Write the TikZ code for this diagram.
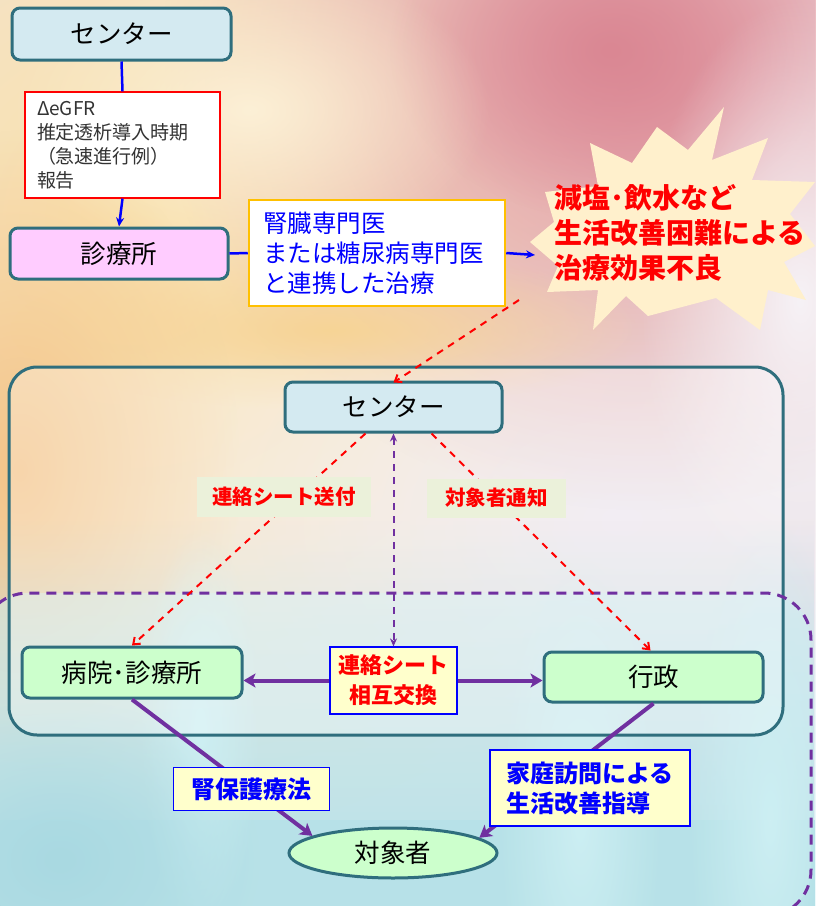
\documentclass[tikz,border=0pt]{standalone}
\usepackage{fontspec}
\setmainfont{Noto Sans CJK JP}
\usetikzlibrary{arrows.meta,fadings,calc,shapes.geometric}
\definecolor{tealb}{HTML}{2F6E7D}
\definecolor{cblue}{HTML}{D4EAF1}
\definecolor{cpink}{HTML}{FFCCFF}
\definecolor{cgreen}{HTML}{CCFFCC}
\definecolor{clabel}{HTML}{EBF1DA}
\definecolor{cyel}{HTML}{FFFFCC}
\definecolor{cpurp}{HTML}{7030A0}
\definecolor{corange}{HTML}{FFC000}
\definecolor{cstar}{HTML}{FFF0CC}
\definecolor{bgbase}{HTML}{EDE7EF}
\definecolor{cred}{HTML}{FF0000}
\definecolor{ctext}{HTML}{333333}
\definecolor{bgwarm}{HTML}{FAE1AC}
\definecolor{bgpink}{RGB}{226,152,163}
\definecolor{bgpinkd}{RGB}{218,135,147}
\definecolor{bgwhite}{RGB}{246,242,246}
\definecolor{bgorange}{RGB}{244,196,136}
\definecolor{bgarc}{RGB}{247,212,150}
\definecolor{bglight}{RGB}{252,240,214}
\definecolor{bgteal}{RGB}{166,216,224}
\definecolor{bgcyan}{RGB}{205,240,244}
\definecolor{bgdteal}{RGB}{140,200,212}
\definecolor{bgpanel}{RGB}{205,238,242}
\tikzfading[name=blob, inner color=transparent!0, outer color=transparent!100]
\tikzfading[name=upfade, top color=transparent!100, bottom color=transparent!0]
\tikzset{
  box/.style={draw=tealb, line width=3pt, rounded corners=8pt, text=black, inner sep=0pt,
    font=\fontsize{25.5}{30}\selectfont},
  note/.style={draw=blue, line width=1.2pt, fill=cyel, inner sep=0pt, font=\bfseries\fontsize{22}{30}\selectfont},
  lab/.style={fill=clabel, inner sep=0pt, text=cred, font=\bfseries\fontsize{20.5}{24}\selectfont},
  blueln/.style={draw=blue, line width=2.5pt},
  bluearr/.style={draw=blue, line width=2.5pt, -{Stealth[length=9pt,width=8pt]}},
  reddash/.style={draw=cred, line width=2pt, dash pattern=on 7pt off 6pt, -{Straight Barb[length=6pt,width=9pt]}},
  purdash/.style={draw=cpurp, line width=2pt, dash pattern=on 7pt off 6pt, {Stealth[length=8pt,width=7pt]}-{Stealth[length=8pt,width=7pt]}},
  purarr/.style={draw=cpurp, line width=4pt, -{Stealth[length=12pt,width=14pt,inset=3pt]}},
  blobc/.style={fill=#1, path fading=blob},
}
\begin{document}
\begin{tikzpicture}[x=1pt,y=-1pt]
\useasboundingbox (0,0) rectangle (815,906);
% ---------- background ----------
\fill[bgbase] (0,0) rectangle (815,906);
\fill[blobc=bgwarm] (130,220) ellipse [x radius=820, y radius=800];
\fill[blobc=bgbase] (620,520) ellipse [x radius=420, y radius=300];
\fill[blobc=bgpink] (640,70) ellipse [x radius=480, y radius=440];
\fill[blobc=bgpinkd] (610,50) ellipse [x radius=220, y radius=170];
\fill[blobc=bgwhite] (800,300) ellipse [x radius=160, y radius=300];
\fill[blobc=bgorange] (20,470) ellipse [x radius=220, y radius=340];
\fill[blobc=bgarc] (330,330) ellipse [x radius=320, y radius=80];
\fill[blobc=bglight] (250,110) ellipse [x radius=240, y radius=150];
\fill[bgteal, path fading=upfade] (0,520) rectangle (815,906);
\fill[bgteal] (0,820) rectangle (815,906);
\fill[blobc=bgcyan] (580,820) ellipse [x radius=80, y radius=260];
\fill[blobc=bgcyan] (200,730) ellipse [x radius=60, y radius=200];
\fill[blobc=bgcyan] (770,820) ellipse [x radius=80, y radius=300];
\fill[blobc=bgdteal] (60,860) ellipse [x radius=200, y radius=160];
% ---------- panels ----------
\fill[bgpanel, fill opacity=0.45, rounded corners=47pt] (-19,593) rectangle (811,917);
\node[draw=tealb, line width=3pt, rounded corners=28pt, fill=white, fill opacity=0.3, draw opacity=1,
  minimum width=774pt, minimum height=368pt, inner sep=0pt] (panel) at (396,551) {};
\draw[cpurp, line width=3pt, dash pattern=on 10pt off 7pt, rounded corners=47pt] (-19,593) rectangle (811,917);
% ---------- starburst ----------
\fill[cstar] (724,107) -- (712,160) -- (768,138) -- (752,180) -- (815,182) -- (790,214)
  -- (815,246) -- (784,262) -- (806,300) -- (768,290) -- (760,330) -- (716,298)
  -- (648,316) -- (626,296) -- (593,330) -- (598,290) -- (547,292) -- (558,266)
  -- (530,242) -- (554,222) -- (545,192) -- (598,186) -- (590,143) -- (632,163)
  -- (657,127) -- (688,150) -- cycle;
\node[anchor=west, align=left, inner sep=0pt, text=cred, font=\bfseries\fontsize{28}{35}\selectfont]
  (star) at (554,233) {減塩･飲水など\\生活改善困難による\\治療効果不良};
\coordinate (starin) at (535,255);
% ---------- top part ----------
\node[box, fill=cblue, minimum width=219pt, minimum height=52pt] (c1) at (121.5,34) {センター};
\node[draw=cred, line width=1.2pt, fill=white, minimum width=195pt, minimum height=106pt,
  text width=171pt, align=left, inner sep=0pt, text=ctext, font=\fontsize{19}{24}\selectfont]
  (rep) at (122.5,145) {ΔeGFR\\推定透析導入時期\\（急速進行例）\\報告};
\node[box, fill=cpink, minimum width=218pt, minimum height=51pt] (clin) at (119,253.5) {診療所};
\node[draw=corange, line width=2.5pt, fill=white, minimum width=256pt, minimum height=106pt,
  text width=228pt, align=left, inner sep=0pt, text=blue, font=\fontsize{24.5}{30}\selectfont]
  (spec) at (377,253) {腎臓専門医\\または糖尿病専門医\\と連携した治療};
\draw[blueln] (c1.south) -- (rep.north);
\draw[bluearr] (rep.south) -- (clin.north);
\draw[blueln] (clin.east) -- (spec.west);
\draw[bluearr] (spec.east) -- (starin);
% ---------- center part ----------
\node[box, fill=cblue, minimum width=217pt, minimum height=50pt] (c2) at (393.5,407) {センター};
\coordinate (redstart) at (519,300);
\draw[reddash] (redstart) -- ([yshift=-2pt]c2.north);
\node[box, fill=cgreen, minimum width=220pt, minimum height=51pt] (hosp) at (132,672.5) {病院･診療所};
\node[box, fill=cgreen, minimum width=219pt, minimum height=50pt] (gov) at (653.5,677) {行政};
\node[note, text=cred, minimum width=127pt, minimum height=67pt, align=center] (xchg) at (393.5,680.5) {連絡シート\\相互交換};
\node[draw=tealb, line width=3pt, ellipse, fill=cgreen, minimum width=208pt, minimum height=50pt,
  inner sep=0pt, font=\fontsize{25.5}{30}\selectfont] (tgt) at (393,853) {対象者};
\draw[reddash] ([xshift=-28pt]c2.south) -- (hosp.north);
\draw[reddash] ([xshift=38pt]c2.south) -- ([xshift=-3pt]gov.north);
\draw[purdash] (c2.south) -- (xchg.north);
\draw[purarr] (xchg.west) -- (xchg.west -| hosp.east);
\draw[purarr] (xchg.east) -- (xchg.east -| gov.west);
\draw[purarr] (hosp.south) -- (tgt.168);
\draw[purarr] (gov.south) -- (tgt.10);
\node[lab, minimum width=174pt, minimum height=40pt] (l1) at (284,497) {連絡シート送付};
\node[lab, minimum width=139pt, minimum height=39pt] (l2) at (496.5,498) {対象者通知};
\node[note, text=blue, minimum width=156pt, minimum height=43pt, font=\bfseries\fontsize{24}{30}\selectfont] (l3) at (251.5,789) {腎保護療法};
\node[note, text=blue, minimum width=200pt, minimum height=76pt, align=left, font=\bfseries\fontsize{24}{30}\selectfont] (l4) at (590,788) {家庭訪問による\\生活改善指導};
\end{tikzpicture}
\end{document}
